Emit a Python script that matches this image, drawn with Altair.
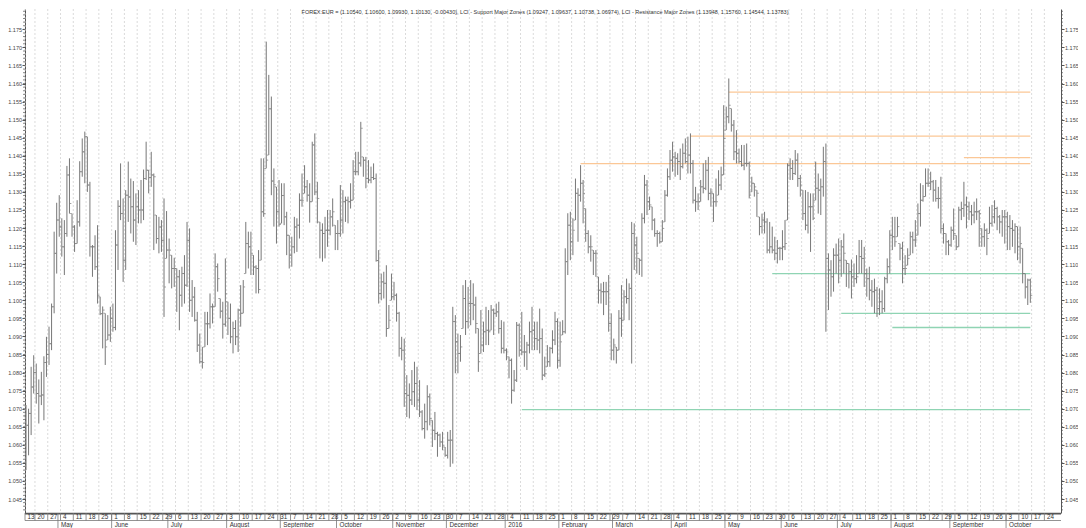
import altair as alt
import pandas as pd
import numpy as np

# ---------------- data (EUR/USD daily bars, prices in pips: price*10000) ----------------
first_day = "2015-04-14"

highs = [
    10710,10700,10816,10848,10825,10781,10802,10845,10899,10927,
    10991,11190,11270,11291,11227,11222,11372,11393,11240,11208,
    11277,11385,11448,11467,11453,11328,11153,11180,11208,11010,
    10983,10964,10959,10982,10991,11194,11277,11379,11282,11305,
    11384,11337,11330,11296,11305,11333,11362,11439,11361,11411,
    11351,11236,11231,11222,11282,11247,11171,11125,11118,11088,
    11084,11093,11125,11217,11199,11056,11037,10968,10908,10871,
    10968,10968,11019,10991,11130,11102,11005,10996,11116,10996,
    10991,10941,10945,10977,11042,11056,11217,11190,11190,11125,
    11097,11139,11393,11393,11716,11624,11564,11365,11314,11333,
    11324,11324,11245,11180,11176,11231,11227,11296,
    11351,11374,11333,11324,11439,11462,11328,11217,11213,11231,
    11250,11250,11282,11208,11222,11319,11305,11287,11287,11324,
    11388,11411,11411,11494,11397,11397,11388,11370,11379,11351,
    11139,11074,11079,11097,10987,11074,11051,11019,10968,10899,
    10894,10793,10770,10807,10830,10816,10779,10696,10714,10765,
    10742,10668,10691,10636,10631,10636,10594,10636,10641,10982,
    10959,10908,10904,11042,11056,11037,11056,11047,11010,10922,
    10973,10941,10982,10973,10987,10977,10991,10996,10945,10941,
    10867,10844,10839,10807,10940,10936,10968,10904,10885,10941,
    10982,10941,10941,
    10977,10922,10844,10876,10871,10917,10968,10950,10941,10945,
    11144,11241,11245,11227,11337,11310,11374,11333,11254,11194,
    11180,11139,11139,11065,11047,11051,11051,11070,10964,10894,
    10871,10973,11042,11028,11060,11047,11217,11213,11176,11116,
    11241,11347,11333,11287,11259,11227,11194,11190,11222,11305,
    11365,11416,11439,11411,11407,11420,11434,11448,11453,11462,
    11388,11314,11296,11333,11379,11388,11397,11310,11296,11337,
    11360,11370,11540,11536,11614,11531,11499,11471,11420,11430,
    11430,11434,11384,11342,11324,11305,11231,11240,11245,11227,
    11217,11204,11176,11167,11148,11194,11222,11379,11393,11388,
    11416,11407,11347,11305,11305,
    11300,11296,11296,11384,11351,11337,11425,11434,11130,11111,
    11144,11157,11171,11167,11185,11111,11102,11113,11102,11125,
    11167,11167,11148,11088,11093,11056,11060,11037,11033,11028,
    11065,11116,11194,11231,11231,11231,11157,11162,11125,11144,
    11190,11190,11222,11268,11324,11319,11365,11365,11356,11333,
    11333,11314,11342,11213,11185,11167,11204,11254,11180,11259,
    11273,11328,11287,11273,11264,11273,11282,11250,11199,11213,
    11199,11259,11264,11277,11259,11236,11250,11250,11245,11236,
    11222,11213,11204,11204,11144,11074,11060,11060,
]

lows = [
    10530,10571,10627,10742,10714,10659,10710,10668,10788,10821,
    10862,10964,11074,11176,11121,11070,11176,11240,11176,11134,
    11157,11204,11342,11324,11300,11121,11065,11084,10991,10959,
    10867,10821,10890,10885,10913,10917,11084,11222,11051,11084,
    11217,11185,11162,11153,11213,11213,11222,11333,11296,11314,
    11139,11157,11130,11134,10954,11116,11047,11033,11037,10968,
    10917,10982,10991,11037,10968,10954,10941,10857,10825,10811,
    10871,10876,10922,10936,10982,11024,10950,10894,10927,10904,
    10881,10853,10876,10857,10927,10964,11074,11088,11070,11070,
    11019,11019,11111,11231,11365,11402,11291,11204,11157,11204,
    11213,11208,11125,11088,11093,11130,11134,11171,
    11259,11296,11273,11215,11273,11291,11213,11116,11107,11116,
    11148,11180,11204,11139,11139,11176,11185,11217,11213,11254,
    11277,11346,11346,11370,11342,11310,11324,11324,11333,11107,
    10991,11000,11005,10899,10922,11000,11000,10941,10844,10834,
    10705,10677,10673,10710,10705,10696,10677,10640,10617,10640,
    10654,10594,10613,10567,10594,10585,10567,10562,10539,10548,
    10798,10798,10830,10922,10904,10922,10931,10945,10908,10802,
    10853,10857,10876,10876,10917,10904,10954,10908,10853,10853,
    10834,10784,10714,10747,10774,10844,10848,10816,10807,10853,
    10862,10862,10862,
    10853,10779,10788,10816,10816,10853,10876,10811,10816,10904,
    10908,11070,11111,11125,11222,11162,11273,11213,11162,11130,
    11107,11070,11065,10991,10991,10959,10987,10913,10834,10834,
    10825,10862,10899,10945,10991,10945,10825,11084,11074,11070,
    11065,11213,11236,11250,11194,11176,11148,11157,11162,11217,
    11287,11333,11356,11342,11347,11333,11365,11379,11351,11351,
    11268,11245,11250,11273,11296,11305,11277,11259,11217,11259,
    11291,11305,11347,11471,11490,11467,11388,11379,11379,11370,
    11360,11370,11282,11300,11287,11231,11180,11185,11185,11130,
    11130,11130,11111,11102,11111,11111,11139,11222,11333,11333,
    11347,11314,11287,11222,11194,
    11185,11134,11222,11277,11240,11236,11287,10913,10973,11010,
    11024,11074,11047,11065,11074,11037,11033,11005,11037,11047,
    11074,11074,11037,11010,11000,10982,10964,10954,10959,10964,
    10968,11047,11074,11139,11148,11176,11111,11047,11070,11097,
    11125,11130,11148,11180,11204,11273,11287,11314,11305,11273,
    11273,11254,11185,11157,11125,11125,11148,11167,11139,11148,
    11222,11231,11199,11222,11208,11213,11222,11148,11148,11148,
    11125,11185,11204,11213,11194,11185,11176,11157,11139,11139,
    11148,11130,11111,11102,11047,11005,10987,10993,
]

closes = [
    10654,10687,10760,10800,10742,10735,10738,10828,10850,10880,
    10982,11130,11222,11203,11148,11185,11347,11268,11203,11157,
    11217,11356,11411,11453,11319,11148,11148,11093,11014,10963,
    10973,10871,10904,10950,10925,11153,11260,11240,11111,11291,
    11286,11259,11222,11259,11250,11250,11337,11360,11340,11347,
    11342,11171,11203,11166,11037,11139,11139,11088,11088,11065,
    11014,11074,11042,11166,11000,11009,10945,10876,10830,10828,
    10935,10935,10982,10982,11093,11060,10970,10934,11018,10950,
    10899,10922,10899,10973,10964,11037,11157,11148,11130,11092,
    11088,11030,11245,11240,11388,11530,11330,11320,11245,11210,
    11290,11231,11180,11125,11148,11203,11208,11277,
    11277,11314,11291,11273,11430,11300,11282,11194,11185,11194,
    11194,11231,11245,11185,11185,11222,11273,11277,11273,11277,
    11356,11356,11380,11476,11388,11337,11333,11340,11337,11110,
    11019,11051,11047,10922,10945,11010,11014,10964,10867,10862,
    10742,10737,10724,10747,10770,10724,10691,10645,10664,10733,
    10673,10640,10631,10627,10608,10599,10571,10613,10613,10941,
    10885,10853,10871,11005,10941,10991,10991,10987,10936,10830,
    10876,10913,10917,10913,10973,10964,10968,10922,10867,10862,
    10857,10834,10751,10779,10931,10862,10857,10857,10876,10913,
    10917,10894,10890,
    10894,10793,10797,10830,10867,10890,10941,10834,10885,10913,
    11107,11208,11162,11194,11296,11291,11324,11296,11185,11148,
    11148,11130,11130,11028,11024,11024,11024,10936,10862,10876,
    10862,10950,10945,11010,11005,11033,11185,11153,11130,11111,
    11227,11319,11273,11264,11222,11185,11185,11162,11199,11291,
    11342,11388,11397,11393,11384,11370,11407,11384,11402,11379,
    11277,11273,11273,11314,11310,11360,11296,11300,11273,11273,
    11319,11347,11448,11508,11540,11485,11411,11407,11384,11374,
    11379,11379,11291,11324,11314,11296,11204,11222,11217,11139,
    11148,11139,11130,11144,11144,11148,11157,11374,11365,11351,
    11388,11337,11319,11240,11208,
    11259,11259,11227,11310,11305,11314,11384,11116,11084,11065,
    11125,11125,11111,11148,11130,11102,11079,11065,11060,11065,
    11121,11116,11074,11060,11028,11024,11028,10977,10996,10977,
    11060,11093,11180,11176,11162,11204,11144,11088,11088,11116,
    11176,11167,11167,11240,11277,11287,11324,11324,11328,11305,
    11282,11282,11199,11185,11162,11153,11194,11185,11148,11250,
    11254,11264,11259,11245,11236,11245,11245,11240,11176,11194,
    11171,11213,11231,11254,11231,11217,11231,11231,11204,11199,
    11194,11204,11148,11157,11074,11037,11056,11013,
]
first_open = 10680

# support / resistance zones: level and the date where each line starts
support_levels = [1.09247, 1.09637, 1.10738, 1.06974]
support_starts = ["2016-08-01", "2016-07-04", "2016-05-26", "2016-01-11"]
resist_levels = [1.13948, 1.15760, 1.14544, 1.13783]
resist_starts = ["2016-09-08", "2016-05-03", "2016-04-12", "2016-02-11"]

month_names = ["May", "June", "July", "August", "September", "October", "November",
               "December", "2016", "February", "March", "April", "May", "June", "July",
               "August", "September", "October"]
y_label_values = [round(1.045 + 0.005 * k, 3) for k in range(27)]
y_minor_values = [round(1.042 + 0.001 * k, 3) for k in range(139)]

title_text = ("FOREX:EUR = (1.10540, 1.10600, 1.09930, 1.10130, -0.00430), "
              "LCI - Support Major Zones (1.09247, 1.09637, 1.10738, 1.06974), "
              "LCI - Resistance Major Zones (1.13948, 1.15760, 1.14544, 1.13783)")

# ---------------- build tables ----------------
n = min(len(highs), len(lows), len(closes))
hi = np.array(highs[:n]) / 1e4
lo = np.array(lows[:n]) / 1e4
cl = np.array(closes[:n]) / 1e4
op = np.empty(n)
op[0] = first_open / 1e4
op[1:] = np.clip(cl[:-1], lo[1:], hi[1:])
bars = pd.DataFrame({"j": np.arange(n), "high": hi, "low": lo, "open": op, "close": cl})
last_j = n - 1


def day_index(dates):
    return np.busday_count(np.datetime64(first_day), np.array(dates, dtype="datetime64[D]"))


XD = [-0.4, 405.0]
W, H = 1036, 504
YD = [1.04113, 1.18063]

mondays = pd.date_range("2015-04-13", "2016-10-24", freq="W-MON")
weeks = pd.DataFrame({"d": mondays})
weeks["sep"] = np.maximum(day_index(mondays.values.astype("datetime64[D]")) - 0.5, XD[0])
weeks["lab"] = weeks["d"].dt.day.astype(str)

mstarts = pd.date_range("2015-05-01", "2016-10-31", freq="BMS")
months = pd.DataFrame({"sep": day_index(mstarts.values.astype("datetime64[D]")) - 0.5,
                       "lab": month_names[:len(mstarts)]})

zones = pd.DataFrame({
    "level": support_levels + resist_levels,
    "x0": list(day_index(support_starts)) + list(day_index(resist_starts)),
    "kind": ["support"] * 4 + ["resistance"] * 4,
})
zones["x1"] = last_j

minor = pd.DataFrame({"v": y_minor_values})
one = pd.DataFrame({"a": [0]})

xs = alt.Scale(domain=XD, nice=False, zero=False)
ys = alt.Scale(domain=YD, nice=False, zero=False)
FONT = "Liberation Sans"
BAR = "#777777"
AXC = "#555555"

axis_common = dict(values=y_label_values, format=".3f", labelFontSize=5.5, labelFont=FONT,
                   labelColor="#444444", tickColor=AXC, domainColor=AXC, tickSize=3,
                   labelPadding=0.5, grid=False, title=None, labelFlush=False)

grid = alt.Chart(weeks).mark_rule(color="#d2d2d2", strokeDash=[2, 2], strokeWidth=0.8).encode(
    x=alt.X("sep:Q", scale=xs, axis=None), y=alt.value(0), y2=alt.value(H))

zone_layer = alt.Chart(zones).mark_rule(strokeWidth=1.3).encode(
    x=alt.X("x0:Q", scale=xs, axis=None), x2="x1:Q",
    y=alt.Y("level:Q", scale=ys, axis=None),
    color=alt.Color("kind:N", scale=alt.Scale(domain=["support", "resistance"],
                                              range=["#8fd4b3", "#fbc796"]), legend=None))

hl = alt.Chart(bars).mark_rule(color=BAR, strokeWidth=1).encode(
    x=alt.X("j:Q", scale=xs, axis=None),
    y=alt.Y("low:Q", scale=ys, axis=alt.Axis(orient="left", **axis_common)),
    y2="high:Q")
open_t = alt.Chart(bars).mark_tick(orient="horizontal", size=1.6, thickness=1, xOffset=-1.1,
                                   color=BAR).encode(
    x=alt.X("j:Q", scale=xs, axis=None), y=alt.Y("open:Q", scale=ys, axis=None))
close_t = alt.Chart(bars).mark_tick(orient="horizontal", size=1.6, thickness=1, xOffset=1.1,
                                    color=BAR).encode(
    x=alt.X("j:Q", scale=xs, axis=None), y=alt.Y("close:Q", scale=ys, axis=None))

minor_l = alt.Chart(minor).mark_rule(color=AXC, strokeWidth=0.7).encode(
    y=alt.Y("v:Q", scale=ys, axis=None), x=alt.value(-2), x2=alt.value(0))
minor_r = alt.Chart(minor).mark_rule(color=AXC, strokeWidth=0.7).encode(
    y=alt.Y("v:Q", scale=ys, axis=alt.Axis(orient="right", **axis_common)),
    x=alt.value(W), x2=alt.value(W + 2))

# bottom date axis (two rows)
base_line = alt.Chart(one).mark_rule(color=AXC, strokeWidth=1.6).encode(
    x=alt.value(0), x2=alt.value(W), y=alt.value(H + 0.6))
row_line = alt.Chart(one).mark_rule(color="#777777", strokeWidth=0.8).encode(
    x=alt.value(0), x2=alt.value(W), y=alt.value(H + 7.5))
week_sep = alt.Chart(weeks).mark_rule(color="#777777", strokeWidth=0.8).encode(
    x=alt.X("sep:Q", scale=xs, axis=None), y=alt.value(H), y2=alt.value(H + 7.5))
month_sep = alt.Chart(months).mark_rule(color="#777777", strokeWidth=0.8).encode(
    x=alt.X("sep:Q", scale=xs, axis=None), y=alt.value(H), y2=alt.value(H + 15))
week_txt = alt.Chart(weeks).mark_text(align="left", baseline="middle", dx=2.5, fontSize=6.3,
                                      font=FONT, color="#333333").encode(
    x=alt.X("sep:Q", scale=xs, axis=None), y=alt.value(H + 4.3), text="lab:N")
month_txt = alt.Chart(months).mark_text(align="left", baseline="middle", dx=3, fontSize=6.3,
                                        font=FONT, color="#333333").encode(
    x=alt.X("sep:Q", scale=xs, axis=None), y=alt.value(H + 11.8), text="lab:N")

title = alt.Chart(one).mark_text(align="center", baseline="middle", fontSize=5.5, font=FONT,
                                 color="#333333").encode(
    x=alt.value(W / 2 + 2), y=alt.value(3), text=alt.value(title_text))

chart = alt.layer(
    grid, zone_layer, hl, open_t, close_t, minor_l, minor_r,
    base_line, row_line, week_sep, month_sep, week_txt, month_txt, title,
).resolve_axis(y="independent").properties(
    width=W, height=H,
    autosize=alt.AutoSizeParams(type="none"),
    padding={"left": 17, "top": 1, "right": 17, "bottom": 15},
    background="white",
).configure_view(stroke=None)

chart.save("out.html", embed_options={"renderer": "svg", "actions": False})
